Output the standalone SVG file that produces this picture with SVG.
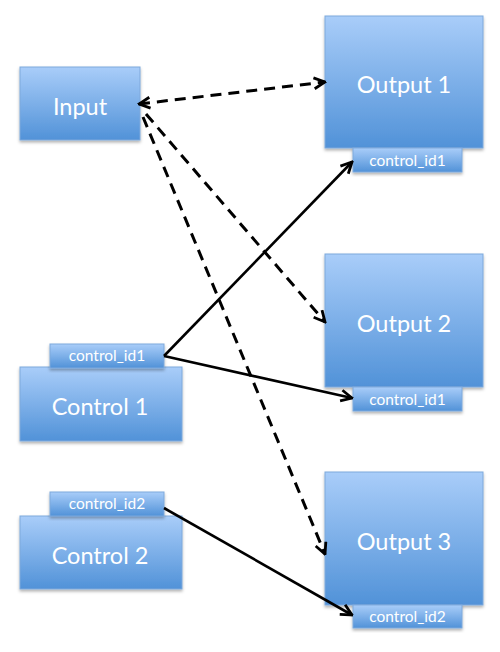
<svg xmlns="http://www.w3.org/2000/svg" width="500" height="652" viewBox="0 0 500 652">
<style>
.box{fill:url(#g);stroke:#7ea9dc;stroke-width:1;filter:url(#sh)}
.big{font-family:Lato,"Open Sans",sans-serif;font-size:23.5px;fill:#fff;text-anchor:middle}
.small{font-family:Lato,"Open Sans",sans-serif;font-size:15.5px;fill:#fff;text-anchor:middle}
.c{stroke:#000;stroke-width:2.6;fill:none}
.d{stroke-width:3;stroke-dasharray:11 7}
</style>
<defs>
<linearGradient id="g" x1="0" y1="0" x2="0" y2="1">
<stop offset="0" stop-color="#a9cdf9"/>
<stop offset="1" stop-color="#5192d8"/>
</linearGradient>
<filter id="sh" x="-10%" y="-10%" width="120%" height="130%">
<feDropShadow dx="0" dy="2" stdDeviation="1.5" flood-color="#000" flood-opacity="0.3"/>
</filter>
<marker id="a" viewBox="0 0 14 14" refX="12.5" refY="7" markerWidth="14" markerHeight="14" markerUnits="userSpaceOnUse" orient="auto-start-reverse">
<path d="M1.5,1.5 L12.5,7 L1.5,12.5" fill="none" stroke="#000" stroke-width="2.8"/>
</marker>
</defs>
<g id="input"><rect class="box" x="20" y="67" width="120" height="73"/><text class="big" x="80" y="115">Input</text></g>
<g id="output1"><rect class="box" x="325" y="16" width="158" height="132"/><text class="big" x="404" y="93">Output 1</text>
<rect class="box" x="353" y="148" width="109" height="24"/><text class="small" x="407.5" y="166">control_id1</text></g>
<g id="output2"><rect class="box" x="325" y="254" width="158" height="133"/><text class="big" x="404" y="332">Output 2</text>
<rect class="box" x="353" y="387" width="109" height="24"/><text class="small" x="407.5" y="405">control_id1</text></g>
<g id="output3"><rect class="box" x="325" y="472" width="158" height="133"/><text class="big" x="404" y="550">Output 3</text>
<rect class="box" x="353" y="605" width="109" height="23"/><text class="small" x="407.5" y="622">control_id2</text></g>
<g id="control1"><rect class="box" x="20" y="367" width="162" height="74"/><text class="big" x="100" y="415">Control 1</text>
<rect class="box" x="50" y="344" width="114" height="24"/><text class="small" x="107" y="361">control_id1</text></g>
<g id="control2"><rect class="box" x="20" y="516" width="162" height="73"/><text class="big" x="100" y="564">Control 2</text>
<rect class="box" x="50" y="492" width="114" height="24"/><text class="small" x="107" y="509">control_id2</text></g>
<g id="connectors">
<line class="c d" x1="139" y1="104" x2="325" y2="82" marker-start="url(#a)" marker-end="url(#a)"/>
<line class="c d" x1="146" y1="114" x2="325" y2="322" marker-end="url(#a)"/>
<line class="c d" x1="143" y1="117" x2="325" y2="554" marker-end="url(#a)"/>
<line class="c" x1="164" y1="356" x2="352" y2="162" marker-end="url(#a)"/>
<line class="c" x1="164" y1="356" x2="352" y2="398" marker-end="url(#a)"/>
<line class="c" x1="164" y1="508" x2="352" y2="615" marker-end="url(#a)"/>
</g>
</svg>
